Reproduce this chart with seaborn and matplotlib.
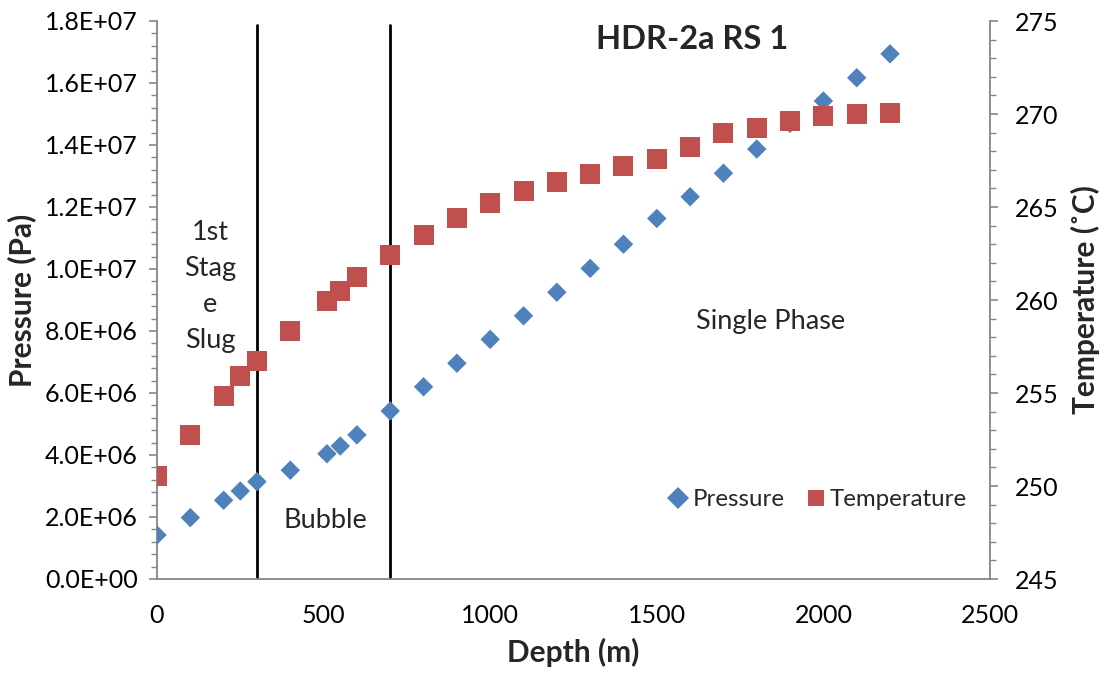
import numpy as np
import pandas as pd
import matplotlib
matplotlib.use("Agg")
import matplotlib.pyplot as plt
from matplotlib.ticker import MultipleLocator, FuncFormatter
from matplotlib.lines import Line2D
import seaborn as sns

# ---- data ----
depth = [0, 100, 200, 250, 300, 400, 510, 550, 600, 700, 800, 900, 1000, 1100,
         1200, 1300, 1400, 1500, 1600, 1700, 1800, 1900, 2000, 2100, 2200]
pressure = [1.42e6, 1.98e6, 2.54e6, 2.84e6, 3.14e6, 3.51e6, 4.04e6, 4.29e6, 4.65e6,
            5.42e6, 6.20e6, 6.96e6, 7.73e6, 8.49e6, 9.25e6, 10.02e6, 10.80e6,
            11.63e6, 12.33e6, 13.09e6, 13.87e6, 14.70e6, 15.42e6, 16.17e6, 16.94e6]
temperature = [250.55, 252.74, 254.85, 255.9, 256.74, 258.35, 259.95, 260.5, 261.22,
               262.42, 263.5, 264.4, 265.2, 265.86, 266.36, 266.8, 267.22, 267.6,
               268.2, 269.0, 269.26, 269.64, 269.88, 270.0, 270.05]
regime_bounds = [300, 700]
title = "HDR-2a RS 1"

df = pd.DataFrame({"Depth": depth, "Pressure": pressure, "Temperature": temperature})

BLUE = "#4F81BD"
RED = "#C0504D"
GREY = "#868686"

sns.set_theme(style="white")
plt.rcParams['font.family'] = ['Lato', 'DejaVu Sans']

fig = plt.figure(figsize=(11.04, 6.73), dpi=100)
ax = fig.add_axes([157/1104, 1-579/673, (990-157)/1104, (579-21)/673])
ax2 = ax.twinx()

sns.scatterplot(data=df, x="Depth", y="Pressure", ax=ax, marker="D", s=98,
                color=BLUE, edgecolor="none", linewidth=0, zorder=3)
sns.scatterplot(data=df, x="Depth", y="Temperature", ax=ax2, marker="s", s=207,
                color=RED, edgecolor="none", linewidth=0, zorder=3)

for xb in regime_bounds:
    ax.axvline(xb, ymin=0, ymax=0.993, color="black", lw=2.0, zorder=2)

ax.set_xlim(0, 2500)
ax.set_ylim(0, 1.8e7)
ax2.set_ylim(245, 275)

ax.xaxis.set_major_locator(MultipleLocator(500))
ax.xaxis.set_minor_locator(MultipleLocator(100))
ax.yaxis.set_major_locator(MultipleLocator(2e6))
ax.yaxis.set_minor_locator(MultipleLocator(4e5))
ax2.yaxis.set_major_locator(MultipleLocator(5))
ax2.yaxis.set_minor_locator(MultipleLocator(1))
ax.yaxis.set_major_formatter(FuncFormatter(lambda v, p: f"{v:.1E}"))

for a in (ax, ax2):
    for s in a.spines.values():
        s.set_visible(False)
ax.spines["left"].set_visible(True)
ax.spines["bottom"].set_visible(True)
ax2.spines["right"].set_visible(True)
for s in (ax.spines["left"], ax.spines["bottom"], ax2.spines["right"]):
    s.set_color(GREY)
    s.set_linewidth(1.3)

ax.tick_params(axis="both", which="major", direction="out", length=6, width=1.2,
               color=GREY, labelsize=18, labelcolor="black", pad=8)
ax.tick_params(axis="both", which="minor", direction="out", length=4, width=1.0,
               color=GREY)
ax2.tick_params(axis="y", which="major", direction="out", length=6, width=1.2,
                color=GREY, labelsize=18, labelcolor="black", pad=12)
ax2.tick_params(axis="y", which="minor", direction="out", length=4, width=1.0,
                color=GREY)
ax.tick_params(axis="x", which="major", pad=12)

ax.set_xlabel("Depth (m)", fontsize=21.5, fontweight="bold", labelpad=8)
ax.set_ylabel("Pressure (Pa)", fontsize=21.5, fontweight="bold", labelpad=6)
ax2.set_ylabel("Temperature (˚C)", fontsize=21.5, fontweight="bold", labelpad=9)

ax.grid(False)
ax2.grid(False)

ax.text(0.642, 0.966, title, transform=ax.transAxes, ha="center", va="center",
        fontsize=23.5, fontweight="bold")
ax.text(159, 9.45e6, "1st\nStag\ne\nSlug", ha="center", va="center", fontsize=19.5,
        linespacing=1.55)
ax.text(505, 1.9e6, "Bubble", ha="center", va="center", fontsize=19.5)
ax.text(1840, 8.3e6, "Single Phase", ha="center", va="center", fontsize=19.5)

handles = [Line2D([], [], marker="D", ls="none", color=BLUE, markersize=11,
                  markeredgewidth=0),
           Line2D([], [], marker="s", ls="none", color=RED, markersize=12,
                  markeredgewidth=0)]
ax.legend(handles, ["Pressure", "Temperature"], loc="center left",
          bbox_to_anchor=(0.585, 0.142), ncol=2, frameon=False, fontsize=17.3,
          handletextpad=0.1, columnspacing=0.8, handlelength=1.0)

fig.savefig("out.png", dpi=100)
